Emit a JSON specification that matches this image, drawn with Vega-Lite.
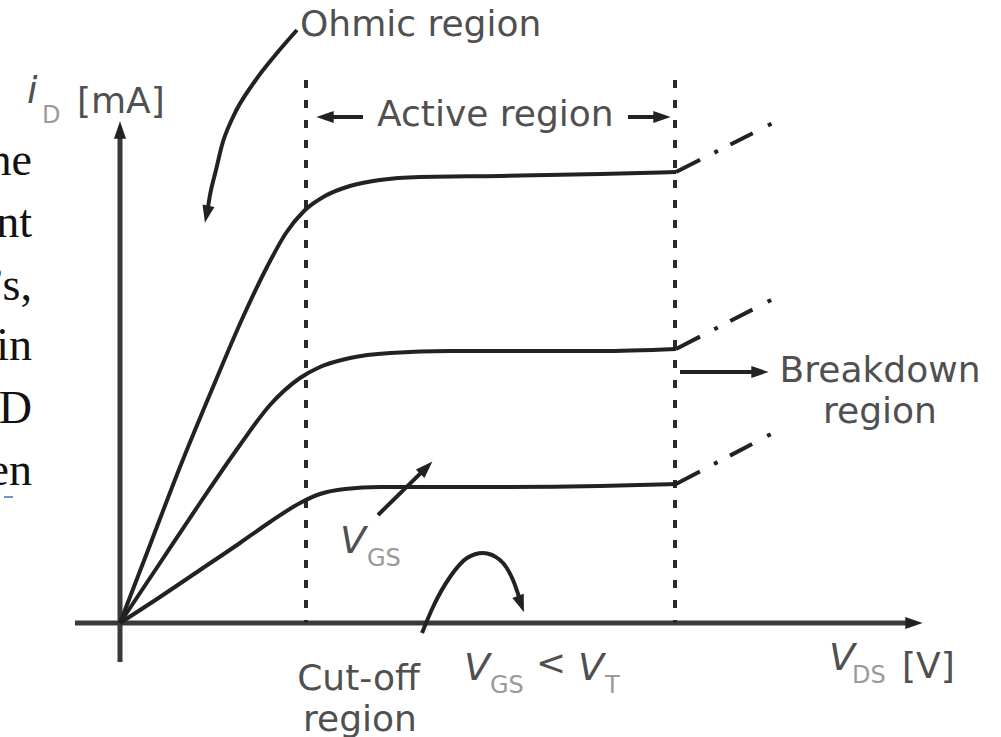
{
  "$schema": "https://vega.github.io/schema/vega-lite/v6.json",
  "width": 1001,
  "height": 737,
  "padding": 0,
  "autosize": {"type": "fit", "contains": "padding"},
  "background": "white",
  "config": {"view": {"stroke": null}},
  "datasets": {
    "curves": [
      {"series": "top", "V_DS": 0, "i_D": 0}, {"series": "top", "V_DS": 3, "i_D": 7.8}, {"series": "top", "V_DS": 6, "i_D": 15.6}, {"series": "top", "V_DS": 9.3, "i_D": 23.6}, {"series": "top", "V_DS": 12.3, "i_D": 30.6}, {"series": "top", "V_DS": 14.7, "i_D": 35.6}, {"series": "top", "V_DS": 16.6, "i_D": 39.0}, {"series": "top", "V_DS": 18.4, "i_D": 41.2}, {"series": "top", "V_DS": 20.5, "i_D": 42.7}, {"series": "top", "V_DS": 23, "i_D": 43.7}, {"series": "top", "V_DS": 26, "i_D": 44.3}, {"series": "top", "V_DS": 30, "i_D": 44.6}, {"series": "top", "V_DS": 38, "i_D": 44.7}, {"series": "top", "V_DS": 48, "i_D": 44.9}, {"series": "top", "V_DS": 55.6, "i_D": 45.1},
      {"series": "mid", "V_DS": 0, "i_D": 0}, {"series": "mid", "V_DS": 4, "i_D": 6}, {"series": "mid", "V_DS": 8, "i_D": 12}, {"series": "mid", "V_DS": 12, "i_D": 17.8}, {"series": "mid", "V_DS": 15, "i_D": 21.8}, {"series": "mid", "V_DS": 18, "i_D": 24.5}, {"series": "mid", "V_DS": 20, "i_D": 25.6}, {"series": "mid", "V_DS": 23, "i_D": 26.5}, {"series": "mid", "V_DS": 27, "i_D": 27}, {"series": "mid", "V_DS": 33, "i_D": 27.2}, {"series": "mid", "V_DS": 48, "i_D": 27.2}, {"series": "mid", "V_DS": 55.6, "i_D": 27.4},
      {"series": "bot", "V_DS": 0, "i_D": 0}, {"series": "bot", "V_DS": 4, "i_D": 2.6}, {"series": "bot", "V_DS": 8, "i_D": 5.3}, {"series": "bot", "V_DS": 12, "i_D": 8}, {"series": "bot", "V_DS": 15, "i_D": 10.1}, {"series": "bot", "V_DS": 18, "i_D": 12}, {"series": "bot", "V_DS": 20, "i_D": 12.9}, {"series": "bot", "V_DS": 22.5, "i_D": 13.4}, {"series": "bot", "V_DS": 26, "i_D": 13.6}, {"series": "bot", "V_DS": 38, "i_D": 13.6}, {"series": "bot", "V_DS": 48, "i_D": 13.7}, {"series": "bot", "V_DS": 55.6, "i_D": 13.9},
      {"series": "ohmic", "V_DS": 17.7, "i_D": 59.3}, {"series": "ohmic", "V_DS": 15.7, "i_D": 57.0}, {"series": "ohmic", "V_DS": 13.5, "i_D": 54.2}, {"series": "ohmic", "V_DS": 11.3, "i_D": 50.6}, {"series": "ohmic", "V_DS": 10.2, "i_D": 47.8}, {"series": "ohmic", "V_DS": 9.6, "i_D": 45.3}, {"series": "ohmic", "V_DS": 9.0, "i_D": 42.8}, {"series": "ohmic", "V_DS": 8.7, "i_D": 40.9},
      {"series": "cutoff", "V_DS": 30.2, "i_D": -1.0}, {"series": "cutoff", "V_DS": 31.3, "i_D": 1.6}, {"series": "cutoff", "V_DS": 33, "i_D": 4.6}, {"series": "cutoff", "V_DS": 34.7, "i_D": 6.5}, {"series": "cutoff", "V_DS": 36.3, "i_D": 7.0}, {"series": "cutoff", "V_DS": 38, "i_D": 6.3}, {"series": "cutoff", "V_DS": 39.3, "i_D": 4.3}, {"series": "cutoff", "V_DS": 40.1, "i_D": 2.0}
    ],
    "segments": [
      {"kind": "axis", "V_DS": -4.5, "i_D": 0, "V_DS_end": 79.4, "i_D_end": 0},
      {"kind": "axis", "V_DS": 0, "i_D": -3.9, "V_DS_end": 0, "i_D_end": 49.3},
      {"kind": "bound", "V_DS": 18.6, "i_D": 54.3, "V_DS_end": 18.6, "i_D_end": 0},
      {"kind": "bound", "V_DS": 55.5, "i_D": 54.3, "V_DS_end": 55.5, "i_D_end": 0},
      {"kind": "ext", "V_DS": 55.6, "i_D": 45.1, "V_DS_end": 65.5, "i_D_end": 50.1},
      {"kind": "ext", "V_DS": 55.6, "i_D": 27.4, "V_DS_end": 65.5, "i_D_end": 32.5},
      {"kind": "ext", "V_DS": 55.6, "i_D": 13.9, "V_DS_end": 65.5, "i_D_end": 19.1},
      {"kind": "arrow", "V_DS": 24.3, "i_D": 50.6, "V_DS_end": 20.5, "i_D_end": 50.6},
      {"kind": "arrow", "V_DS": 50.8, "i_D": 50.6, "V_DS_end": 54.2, "i_D_end": 50.6},
      {"kind": "arrow", "V_DS": 56, "i_D": 25.1, "V_DS_end": 64, "i_D_end": 25.1},
      {"kind": "arrow", "V_DS": 25.8, "i_D": 10.8, "V_DS_end": 30.63, "i_D_end": 15.54},
      {"kind": "link", "V_DS": -11.6, "i_D": 12.6, "V_DS_end": -10.7, "i_D_end": 12.6}
    ],
    "heads": [
      {"V_DS": 0, "i_D": 49.3, "direction": 0},
      {"V_DS": 79.4, "i_D": 0, "direction": 90},
      {"V_DS": 8.67, "i_D": 40.88, "direction": 192},
      {"V_DS": 40.1, "i_D": 1.9, "direction": 160},
      {"V_DS": 30.63, "i_D": 15.54, "direction": 45},
      {"V_DS": 20.5, "i_D": 50.6, "direction": 270},
      {"V_DS": 54.2, "i_D": 50.6, "direction": 90},
      {"V_DS": 64, "i_D": 25.1, "direction": 90}
    ],
    "labels": [
      {"V_DS": 18, "i_D": 58.7, "text": "Ohmic region"},
      {"V_DS": 25.7, "i_D": 49.7, "text": "Active region"},
      {"V_DS": -4.3, "i_D": 51, "text": "[mA]"},
      {"V_DS": 78.2, "i_D": -5.5, "text": "[V]"},
      {"V_DS": 41.6, "i_D": -5.2, "text": "<"}
    ],
    "clabels": [
      {"V_DS": 76, "i_D": 24.1, "text": "Breakdown"},
      {"V_DS": 76, "i_D": 20.0, "text": "region"},
      {"V_DS": 23.85, "i_D": -6.7, "text": "Cut-off"},
      {"V_DS": 24, "i_D": -10.8, "text": "region"}
    ],
    "symbols": [
      {"V_DS": -9.3, "i_D": 52, "text": "i"},
      {"V_DS": 70.9, "i_D": -4.7, "text": "V"},
      {"V_DS": 34.4, "i_D": -5.7, "text": "V"},
      {"V_DS": 45.8, "i_D": -5.7, "text": "V"},
      {"V_DS": 22, "i_D": 7.0, "text": "V"}
    ],
    "subs": [
      {"V_DS": -7.8, "i_D": 50, "text": "D"},
      {"V_DS": 73.2, "i_D": -6.0, "text": "DS"},
      {"V_DS": 37, "i_D": -7.0, "text": "GS"},
      {"V_DS": 48.5, "i_D": -7.0, "text": "T"},
      {"V_DS": 24.7, "i_D": 5.7, "text": "GS"}
    ],
    "fragments": [
      {"V_DS": -8.8, "i_D": 44.8, "text": "he"},
      {"V_DS": -8.8, "i_D": 38.6, "text": "nt"},
      {"V_DS": -8.8, "i_D": 32.3, "text": "’s,"},
      {"V_DS": -8.8, "i_D": 26.3, "text": "in"},
      {"V_DS": -8.8, "i_D": 20.0, "text": "D"},
      {"V_DS": -8.8, "i_D": 13.8, "text": "en"}
    ]
  },
  "encoding": {
    "x": {"field": "V_DS", "type": "quantitative", "scale": {"domain": [-12, 88.1], "nice": false, "zero": false}, "axis": null},
    "y": {"field": "i_D", "type": "quantitative", "scale": {"domain": [-11.4, 62.3], "nice": false, "zero": false}, "axis": null}
  },
  "layer": [
    {
      "data": {"name": "segments"},
      "transform": [{"filter": "datum.kind === 'axis'"}],
      "mark": {"type": "rule", "color": "#3a3a3a", "strokeWidth": 5},
      "encoding": {"x2": {"field": "V_DS_end"}, "y2": {"field": "i_D_end"}}
    },
    {
      "data": {"name": "segments"},
      "transform": [{"filter": "datum.kind === 'bound'"}],
      "mark": {"type": "rule", "color": "#2a2a2a", "strokeWidth": 4, "strokeDash": [8, 12]},
      "encoding": {"x2": {"field": "V_DS_end"}, "y2": {"field": "i_D_end"}}
    },
    {
      "data": {"name": "segments"},
      "transform": [{"filter": "datum.kind === 'ext'"}],
      "mark": {"type": "rule", "color": "#222222", "strokeWidth": 4, "strokeDash": [27, 16, 4, 14, 25, 17, 4, 60]},
      "encoding": {"x2": {"field": "V_DS_end"}, "y2": {"field": "i_D_end"}}
    },
    {
      "data": {"name": "segments"},
      "transform": [{"filter": "datum.kind === 'arrow'"}],
      "mark": {"type": "rule", "color": "#222222", "strokeWidth": 4},
      "encoding": {"x2": {"field": "V_DS_end"}, "y2": {"field": "i_D_end"}}
    },
    {
      "data": {"name": "segments"},
      "transform": [{"filter": "datum.kind === 'link'"}],
      "mark": {"type": "rule", "color": "#6f95d6", "strokeWidth": 2},
      "encoding": {"x2": {"field": "V_DS_end"}, "y2": {"field": "i_D_end"}}
    },
    {
      "data": {"name": "curves"},
      "mark": {"type": "line", "color": "#222222", "strokeWidth": 4, "interpolate": "monotone"},
      "encoding": {"detail": {"field": "series"}}
    },
    {
      "data": {"name": "heads"},
      "mark": {"type": "point", "shape": "M0,-1L0.7,1L-0.7,1Z", "filled": true, "size": 300, "color": "#222222", "opacity": 1},
      "encoding": {"angle": {"field": "direction", "type": "quantitative", "scale": null}}
    },
    {
      "data": {"name": "labels"},
      "mark": {"type": "text", "font": "DejaVu Sans", "fontSize": 36, "align": "left", "baseline": "alphabetic", "color": "#505050", "clip": true},
      "encoding": {"text": {"field": "text"}}
    },
    {
      "data": {"name": "clabels"},
      "mark": {"type": "text", "font": "DejaVu Sans", "fontSize": 36, "align": "center", "baseline": "alphabetic", "color": "#505050", "clip": true},
      "encoding": {"text": {"field": "text"}}
    },
    {
      "data": {"name": "symbols"},
      "mark": {"type": "text", "font": "DejaVu Sans", "fontSize": 38, "fontStyle": "italic", "align": "left", "baseline": "alphabetic", "color": "#505050", "clip": true},
      "encoding": {"text": {"field": "text"}}
    },
    {
      "data": {"name": "subs"},
      "mark": {"type": "text", "font": "DejaVu Sans", "fontSize": 24, "align": "left", "baseline": "alphabetic", "color": "#9a9a9a", "clip": true},
      "encoding": {"text": {"field": "text"}}
    },
    {
      "data": {"name": "fragments"},
      "mark": {"type": "text", "font": "Liberation Serif", "fontSize": 46, "align": "right", "baseline": "alphabetic", "color": "#111111", "clip": true},
      "encoding": {"text": {"field": "text"}}
    }
  ]
}
